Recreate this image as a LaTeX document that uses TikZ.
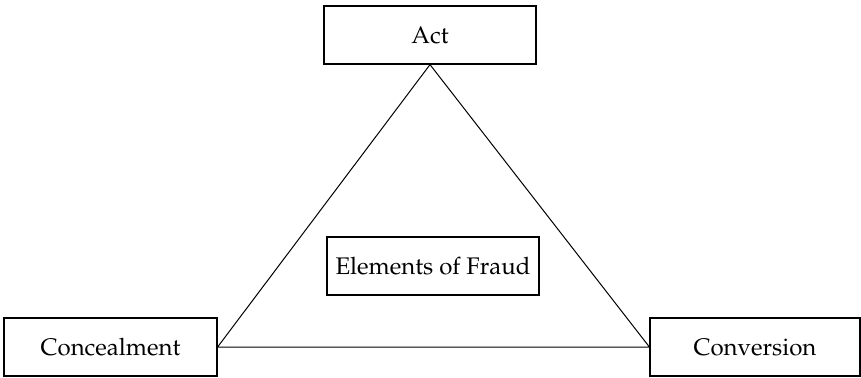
\documentclass[tikz,border=0pt]{standalone}
\usepackage[T1]{fontenc}
\usepackage{mathpazo}
\usepackage{tikz}

\begin{document}
\begin{tikzpicture}[x=0.5pt,y=0.5pt]
\tikzstyle{every node}+=[inner sep=0pt]
\tikzstyle{elembox}=[draw=black, line width=0.6pt, minimum height=29pt, font=\fontsize{12}{14}\selectfont]
\useasboundingbox (0,0) rectangle (861,-377);
\draw (430,-35) node [elembox, minimum width=106pt] (act) {Act};
\draw (110.5,-347) node [elembox, minimum width=106.5pt] (conceal) {Concealment};
\draw (755,-347) node [elembox, minimum width=105pt] (convert) {Conversion};
\draw (433,-266) node [elembox, minimum width=106pt] (fraud) {Elements of Fraud};
% triangle between the three elements
\draw [black, line width=0.5pt] (act.south) -- (conceal.east) -- (convert.west) -- cycle;
\end{tikzpicture}
\end{document}
